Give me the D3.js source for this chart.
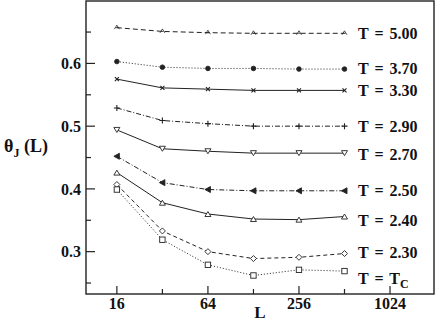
<!DOCTYPE html>
<html lang="en">
<head>
<meta charset="UTF-8">
<title>theta_J(L)</title>
<script src="https://d3js.org/d3.v7.min.js"></script>
<style>
  body { margin: 0; padding: 0; background: #fff; }
  svg { display: block; }
</style>
</head>
<body>
<svg id="chart" width="436" height="327"></svg>
<script>
// system sizes L
const sizes = [16, 32, 64, 128, 256, 512];

// theta_J(L) for each temperature
const t500 = [0.657, 0.651, 0.649, 0.648, 0.648, 0.648];
const t370 = [0.603, 0.594, 0.592, 0.592, 0.591, 0.591];
const t330 = [0.575, 0.561, 0.559, 0.557, 0.557, 0.557];
const t290 = [0.529, 0.509, 0.504, 0.500, 0.500, 0.500];
const t270 = [0.494, 0.464, 0.460, 0.457, 0.457, 0.457];
const t250 = [0.452, 0.410, 0.399, 0.397, 0.397, 0.397];
const t240 = [0.426, 0.378, 0.360, 0.352, 0.351, 0.356];
const t230 = [0.407, 0.333, 0.300, 0.289, 0.291, 0.297];
const tTc  = [0.399, 0.319, 0.279, 0.262, 0.271, 0.269];

const seriesLabels = ["5.00", "3.70", "3.30", "2.90", "2.70", "2.50", "2.40", "2.30", "Tc"];
const xTicks = [16, 64, 256, 1024];
const xMinorTicks = [32, 128, 512];
const yTicks = [0.3, 0.4, 0.5, 0.6];
const yMinorTicks = [0.25, 0.35, 0.45, 0.55, 0.65];

const allSeries = [t500, t370, t330, t290, t270, t250, t240, t230, tTc];
// line style / marker per series
const dashes = ["5,3", "1,2", null, "5,2,1,2", null, "5,2,1,2", null, "4,3", "1,2"];
const markers = ["star", "dot", "cross", "plus", "tridown", "triLeft", "triup", "diamond", "square"];
const labelShift = [0, -1, 0, 0, 1, 0, 4, -1, 7];

const svg = d3.select("#chart");
const pLeft = 86, pRight = 434, pTop = 1, pBottom = 294;
const serif = "'Liberation Serif'";

const x = d3.scaleLog().base(2).domain([10, 2000]).range([pLeft, pRight]);
const y = d3.scaleLinear().domain([0.2325, 0.6995]).range([pBottom, pTop]);

// frame
svg.append("rect")
  .attr("x", pLeft).attr("y", pTop)
  .attr("width", pRight - pLeft).attr("height", pBottom - pTop)
  .attr("fill", "none").attr("stroke", "#222").attr("stroke-width", 1.4);

// ticks pointing inward
const g = svg.append("g").attr("stroke", "#222").attr("stroke-width", 1.2);
xTicks.forEach(t => {
  g.append("line").attr("x1", x(t)).attr("x2", x(t)).attr("y1", pBottom).attr("y2", pBottom - 8);
});
xMinorTicks.forEach(t => {
  g.append("line").attr("x1", x(t)).attr("x2", x(t)).attr("y1", pBottom).attr("y2", pBottom - 5);
});
yTicks.forEach(t => {
  g.append("line").attr("x1", pLeft).attr("x2", pLeft + 9).attr("y1", y(t)).attr("y2", y(t));
});
yMinorTicks.forEach(t => {
  g.append("line").attr("x1", pLeft).attr("x2", pLeft + 5).attr("y1", y(t)).attr("y2", y(t));
});

// all text in bold serif
const txt = () => svg.append("text")
  .attr("font-family", serif).attr("font-weight", "bold").attr("fill", "#111");

// tick labels
xTicks.forEach(t => {
  txt().attr("x", x(t)).attr("y", pBottom + 15)
    .attr("text-anchor", "middle").attr("font-size", 16).text(t);
});
yTicks.forEach(t => {
  txt().attr("x", pLeft - 5).attr("y", y(t)).attr("dy", "0.35em")
    .attr("text-anchor", "end").attr("font-size", 16).text(t.toFixed(1));
});

// axis titles
txt().attr("x", (pLeft + pRight) / 2).attr("y", 318)
  .attr("text-anchor", "middle").attr("font-size", 17).text("L");
const yt = txt().attr("x", 4).attr("y", 152).attr("font-size", 18);
yt.append("tspan").text("θ");
yt.append("tspan").attr("font-size", 12).attr("dy", 5).text("J");
yt.append("tspan").attr("dy", -5).text(" (L)");

// series
const line = d3.line().x((d, i) => x(sizes[i])).y(d => y(d));

function drawMarker(sel, type, cx, cy) {
  const s = sel.append("g").attr("transform", `translate(${cx},${cy})`)
    .attr("stroke", "#222").attr("stroke-width", 0.9).attr("fill", "#fff");
  if (type === "star") {
    s.append("path").attr("d", "M-2.5,1.5L0,-2.5L2.5,1.5M-1,0L1,0").attr("fill", "none").attr("stroke-width", 0.8);
  } else if (type === "dot") {
    s.append("circle").attr("r", 2.3).attr("fill", "#222");
  } else if (type === "cross") {
    s.append("path").attr("d", "M-2,-2L2,2M-2,2L2,-2").attr("stroke-width", 1.1);
  } else if (type === "plus") {
    s.append("path").attr("d", "M-3,0L3,0M0,-3L0,3").attr("stroke-width", 1.1);
  } else if (type === "tridown") {
    s.append("path").attr("d", "M-3,-2.5L3,-2.5L0,2.5Z");
  } else if (type === "triup") {
    s.append("path").attr("d", "M-3,2.5L3,2.5L0,-2.5Z");
  } else if (type === "triLeft") {
    s.append("path").attr("d", "M-3,0L2.5,-3L2.5,3Z").attr("fill", "#222");
  } else if (type === "diamond") {
    s.append("path").attr("d", "M0,-3L3,0L0,3L-3,0Z");
  } else if (type === "square") {
    s.append("rect").attr("x", -2.7).attr("y", -2.7).attr("width", 5.4).attr("height", 5.4);
  }
}

allSeries.forEach((vals, k) => {
  svg.append("path").datum(vals)
    .attr("d", line)
    .attr("fill", "none")
    .attr("stroke", "#222")
    .attr("stroke-width", 1)
    .attr("stroke-dasharray", dashes[k]);
  vals.forEach((v, i) => drawMarker(svg, markers[k], x(sizes[i]), y(v)));

  const lab = txt()
    .attr("x", 358).attr("y", y(vals[vals.length - 1]) + labelShift[k]).attr("dy", "0.35em")
    .attr("font-size", 16).attr("word-spacing", 2);
  if (seriesLabels[k] === "Tc") {
    lab.append("tspan").text("T = T");
    lab.append("tspan").attr("font-size", 12).attr("dy", 4).text("C");
  } else {
    lab.text("T = " + seriesLabels[k]);
  }
});
</script>
</body>
</html>
